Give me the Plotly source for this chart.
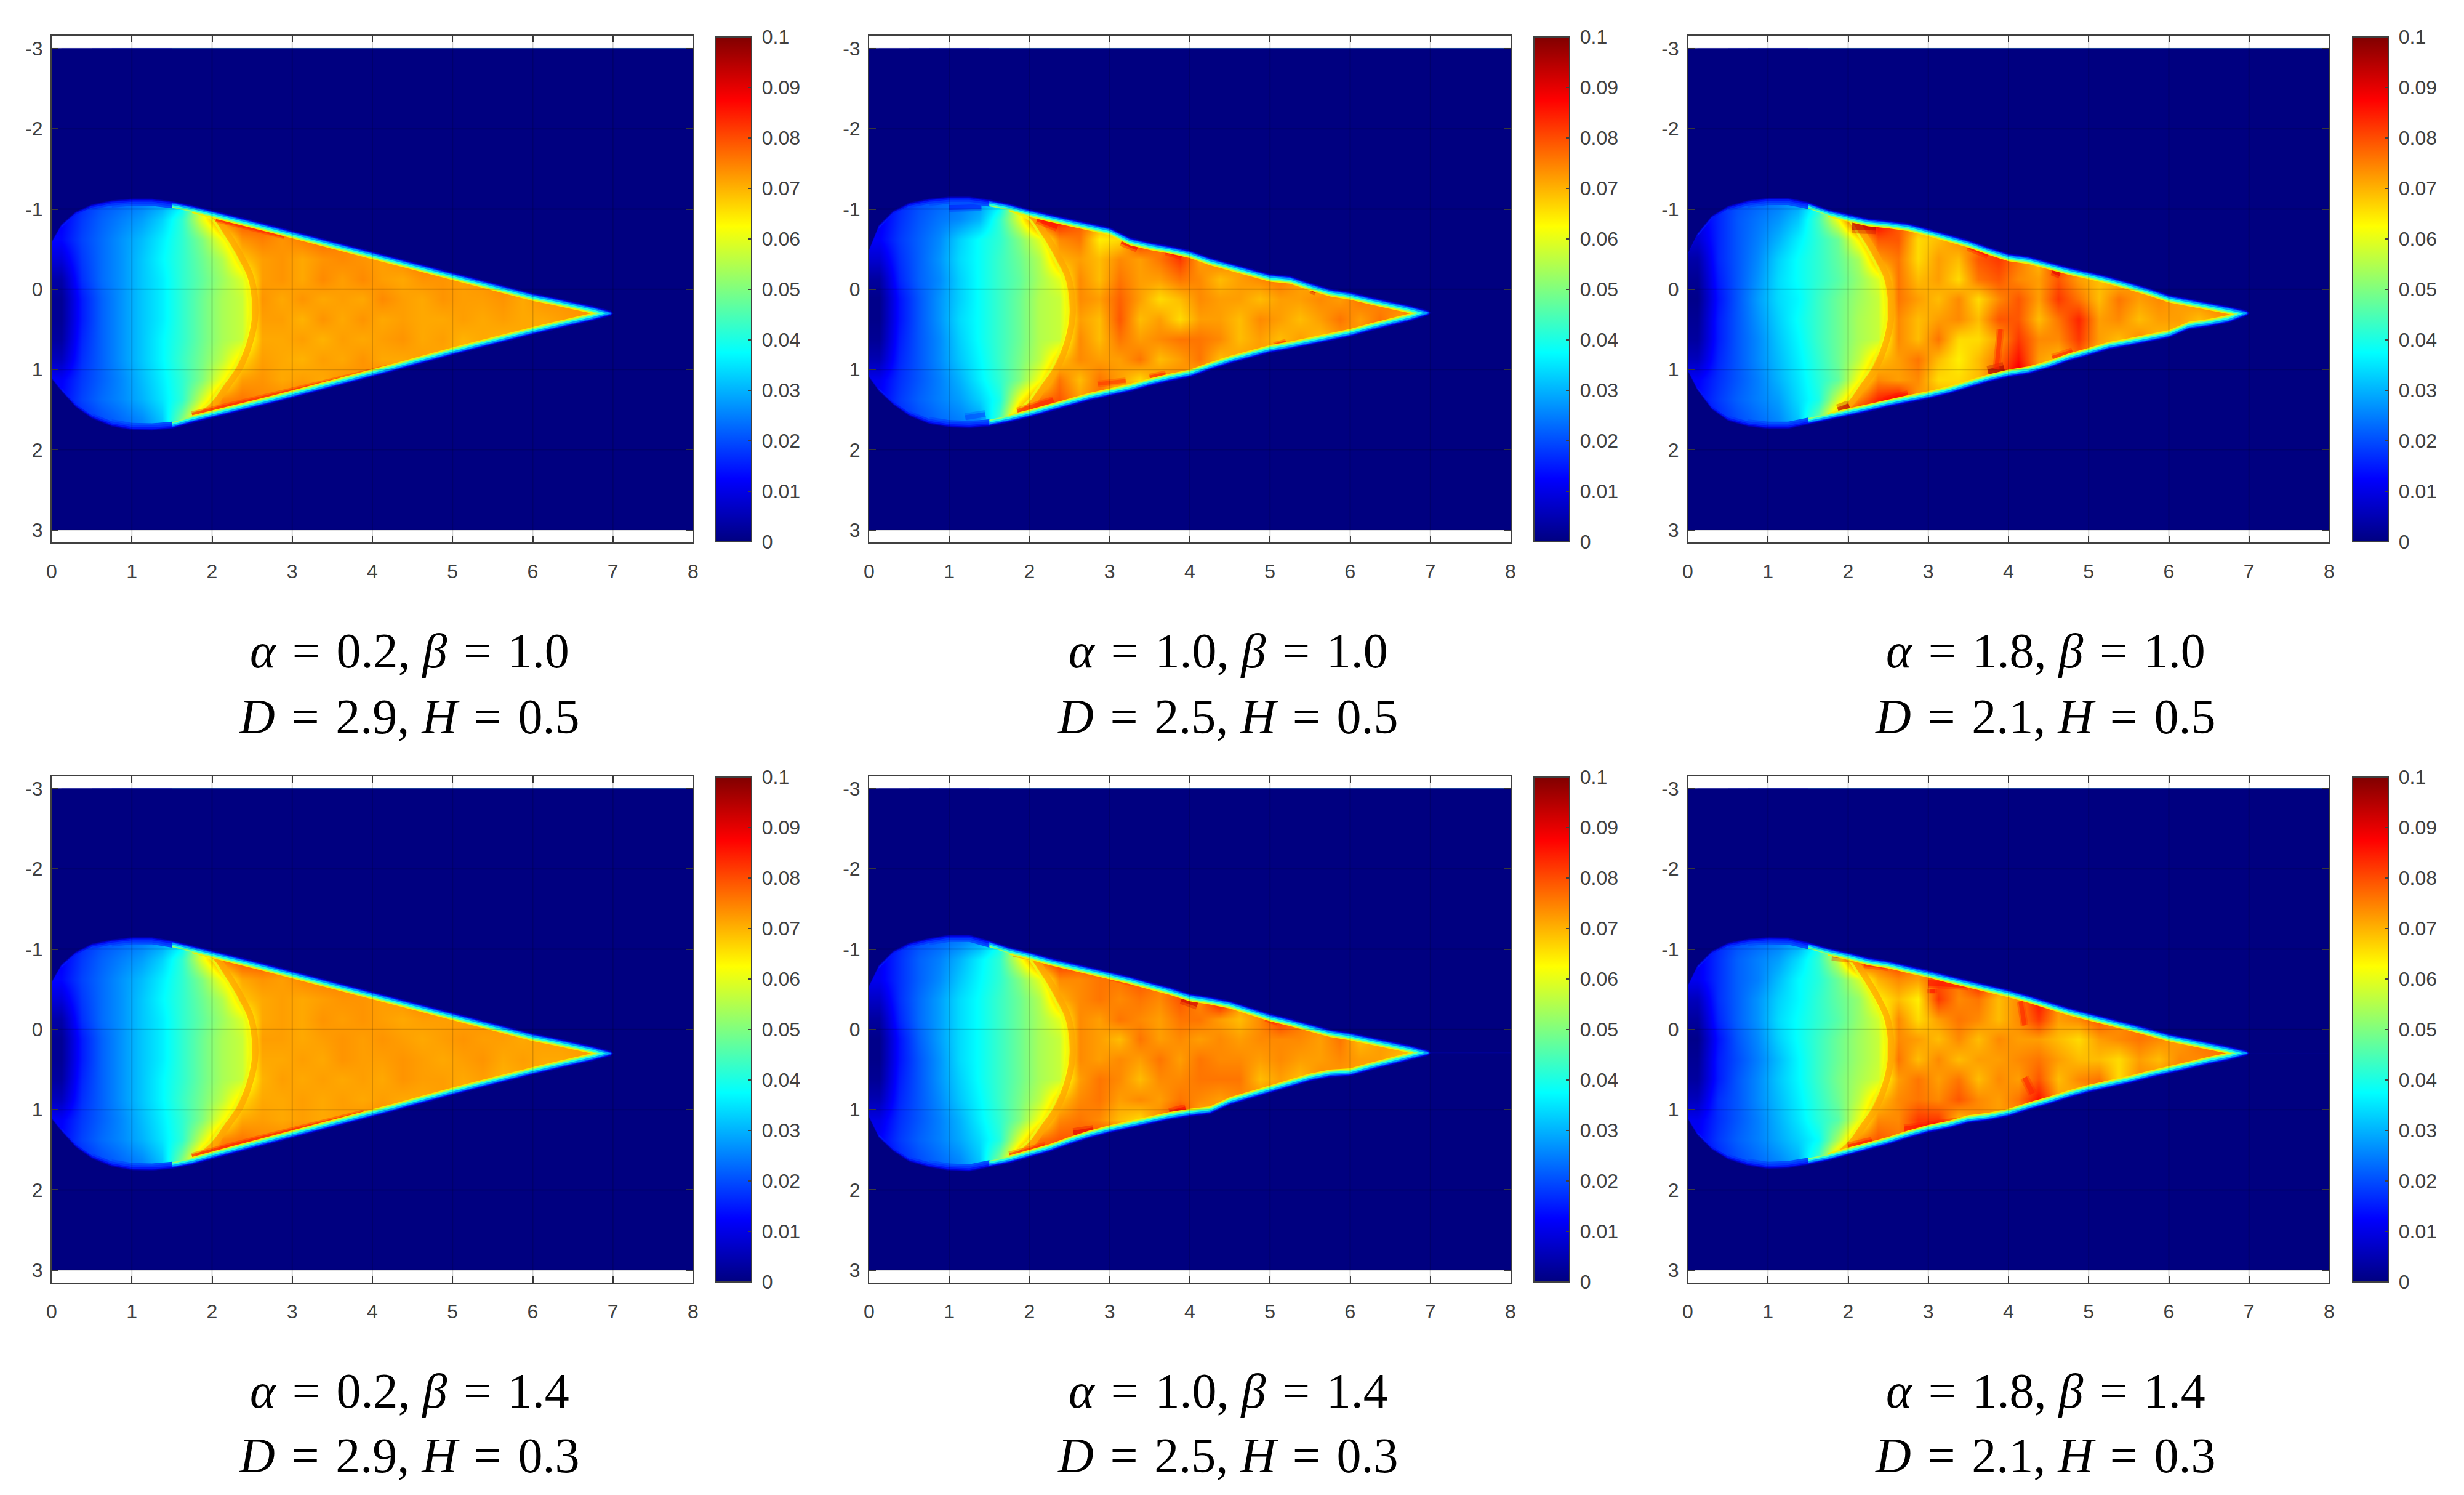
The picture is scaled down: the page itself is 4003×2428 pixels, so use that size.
import plotly.graph_objects as go

W, H = 4003, 2428
CAT_X = [0.125 + 0.25 * i for i in range(32)]
CAT_Y = [-2.875 + 0.25 * j for j in range(24)]
FIRST_ROW = 6          # grid row of y=-1.375, the first typed row
SCALE = 0.001          # typed grid values are in thousandths

TITLES = [("α", "0.2", "β", "1.0", "2.9", "0.5"), ("α", "1.0", "β", "1.0", "2.5", "0.5"), ("α", "1.8", "β", "1.0", "2.1", "0.5"),
          ("α", "0.2", "β", "1.4", "2.9", "0.3"), ("α", "1.0", "β", "1.4", "2.5", "0.3"), ("α", "1.8", "β", "1.4", "2.1", "0.3")]

# rows y=-1.375 ... 1.875 step .25; columns x=.125 ... 7.125 step .25 (thousandths)
GRID_P1 = [
[8,14,18,20,22,24,26,40,70,72,72,72,72,72,72,72,72,72,72,72,72,72,72,72,72,72,72,72,72],
[10,16,20,22,24,27,34,60,72,74,74,74,74,74,74,74,74,74,74,74,74,74,74,74,74,74,74,74,74],
[12,18,22,25,28,33,42,60,76,80,80,78,76,74,74,74,74,74,74,74,74,74,74,74,74,74,74,74,74],
[13,19,23,27,31,36,42,50,62,73,75,73,75,77,75,73,73,73,73,73,73,73,73,73,73,73,73,73,73],
[9,18,23,27,32,37,42,48,55,68,72,73,71,73,74,73,72,74,76,75,73,73,73,73,73,73,73,73,73],
[4,17,23,27,32,36,42,47,53,59,72,73,71,74,72,74,72,71,73,73,72,73,75,75,73,73,73,73,73],
[2,15,22,27,32,36,42,48,54,57,73,71,73,71,72,71,74,72,71,73,72,72,73,71,73,73,73,73,73],
[2,15,22,27,32,36,42,48,54,57,72,72,70,73,71,73,71,72,71,71,72,71,72,71,71,72,73,73,71],
[3,16,22,27,32,37,42,48,54,57,71,71,72,70,72,71,72,73,71,72,70,71,70,71,71,71,71,71,71],
[6,17,22,27,32,37,43,49,56,66,72,71,70,72,71,73,71,71,72,71,70,71,73,71,71,71,71,71,71],
[12,18,22,26,31,36,42,50,62,72,73,71,72,71,73,73,75,73,73,73,73,73,73,73,73,73,73,73,73],
[13,19,23,26,30,35,42,58,74,76,74,74,76,78,76,76,76,74,74,74,74,74,74,74,74,74,74,74,74],
[10,16,20,23,26,32,50,73,80,80,80,78,76,76,76,76,76,76,76,76,76,76,76,76,76,76,76,76,76],
[8,14,18,20,24,28,40,70,78,78,78,76,76,76,76,76,76,76,76,76,76,76,76,76,76,76,76,76,76]]
GRID_P2 = [
[8,14,18,20,22,24,26,40,72,74,74,74,74,74,74,74,74,74,74,74,74,74,74,74,74,74,74,74,74],
[10,16,20,22,24,26,34,62,79,84,79,76,76,76,76,76,76,76,76,76,76,76,76,76,76,76,76,76,76],
[11,17,21,24,26,30,42,60,82,86,79,74,74,76,79,76,76,76,76,76,76,76,76,76,76,76,76,76,76],
[12,18,22,26,33,38,42,50,60,74,76,64,66,84,76,79,76,76,76,76,76,76,76,76,76,76,76,76,76],
[8,17,22,27,34,38,43,48,55,70,72,69,74,72,76,82,72,76,72,79,76,74,76,76,76,76,76,76,76],
[3,16,22,26,33,38,43,47,54,60,74,69,76,72,72,76,74,69,72,74,76,72,69,88,76,76,76,76,76],
[1,14,21,27,33,38,43,48,55,57,74,72,78,72,66,69,74,72,72,69,72,72,74,72,76,74,76,76,76],
[1,14,21,27,34,38,43,48,55,57,72,69,79,69,72,66,72,72,69,74,72,69,72,76,72,76,72,79,76],
[2,15,21,26,33,38,43,48,55,57,74,69,76,72,74,76,76,74,69,72,69,72,69,72,74,82,76,76,76],
[5,16,21,26,32,37,43,49,56,68,74,72,72,76,69,72,76,69,72,72,74,79,74,74,74,74,74,74,74],
[11,17,21,25,30,36,42,50,62,76,69,76,72,66,74,74,69,74,79,76,76,76,76,76,76,76,76,76,76],
[12,18,22,25,28,33,40,62,76,79,72,76,66,82,84,76,76,76,76,76,76,76,76,76,76,76,76,76,76],
[10,16,20,23,25,28,44,76,84,84,76,76,76,76,76,76,76,76,76,76,76,76,76,76,76,76,76,76,76],
[8,14,18,20,24,28,40,72,79,79,79,76,76,76,76,76,76,76,76,76,76,76,76,76,76,76,76,76,76]]
GRID_P3 = [
[8,14,18,20,22,24,26,46,79,84,79,76,76,76,76,76,76,76,76,76,76,76,76,76,76,76,76,76,76],
[10,16,20,22,24,27,38,66,84,88,82,76,76,76,76,76,76,76,76,76,76,76,76,76,76,76,76,76,76],
[10,16,21,24,27,32,44,62,86,90,79,74,74,74,76,76,76,76,76,76,76,76,76,76,76,76,76,76,76],
[8,16,21,25,30,36,42,48,64,79,79,66,69,74,74,84,76,76,76,76,76,76,76,76,76,76,76,76,76],
[4,16,21,26,33,38,42,47,54,72,76,66,72,69,79,82,76,69,84,74,74,76,76,76,76,76,76,76,76],
[2,15,21,27,34,38,42,46,52,59,76,69,72,66,76,79,74,72,79,72,69,69,74,72,74,76,76,76,76],
[1,14,21,28,34,37,43,48,53,57,76,72,69,74,66,74,79,72,82,76,69,76,72,74,72,74,76,74,74],
[2,15,21,27,33,38,43,48,54,57,74,69,72,74,69,79,79,69,76,84,72,74,69,72,72,69,72,72,74],
[3,15,21,26,32,37,43,48,54,57,74,69,76,66,66,72,82,74,74,82,72,69,74,69,69,69,72,72,74],
[6,16,21,26,31,36,42,48,56,68,72,76,69,64,69,76,86,72,69,76,69,74,74,74,74,74,74,74,74],
[12,17,21,25,30,35,41,47,62,74,72,74,66,66,69,79,92,74,72,74,74,74,74,74,74,74,74,74,74],
[13,18,22,25,28,34,40,58,74,84,88,72,72,69,76,76,76,76,76,76,76,76,76,76,76,76,76,76,76],
[10,16,20,23,26,32,48,76,90,86,84,76,76,76,76,76,76,76,76,76,76,76,76,76,76,76,76,76,76],
[8,14,18,20,24,28,40,72,84,82,79,76,76,76,76,76,76,76,76,76,76,76,76,76,76,76,76,76,76]]
GRID_P4 = [
[8,14,18,20,22,24,26,40,70,72,72,72,72,72,72,72,72,72,72,72,72,72,72,72,72,72,72,72,72],
[10,16,20,22,24,27,34,60,72,74,74,74,74,74,74,74,74,74,74,74,74,74,74,74,74,74,74,74,74],
[12,18,22,25,28,33,42,60,76,80,80,78,76,74,74,74,74,74,74,74,74,74,74,74,74,74,74,74,74],
[13,19,23,27,31,36,42,50,62,71,73,72,74,75,75,73,73,73,73,73,73,73,73,73,73,73,73,73,73],
[9,18,23,27,32,37,42,48,55,68,71,72,71,72,73,73,72,73,75,75,73,73,73,73,73,73,73,73,73],
[4,17,23,27,32,36,42,47,53,59,71,72,71,73,72,73,72,71,72,72,72,73,73,73,73,73,73,73,73],
[2,15,22,27,32,36,42,48,54,57,72,72,71,72,73,72,73,72,71,72,73,72,72,71,72,72,72,72,72],
[2,15,22,27,32,36,42,48,54,57,71,71,72,71,73,72,72,73,72,71,72,73,71,72,71,71,72,72,71],
[3,16,22,27,32,37,42,48,54,57,70,72,71,72,71,72,71,73,72,72,71,72,70,71,71,71,71,71,71],
[6,17,22,27,32,37,43,49,56,66,71,71,72,71,72,71,72,71,71,72,71,71,72,71,71,71,71,71,71],
[12,18,22,26,31,36,42,50,62,71,72,71,72,71,72,73,74,72,73,73,73,73,73,73,73,73,73,73,73],
[13,19,23,26,30,35,42,58,74,76,74,74,76,76,76,76,76,74,74,74,74,74,74,74,74,74,74,74,74],
[10,16,20,23,26,32,50,73,80,80,80,78,76,76,76,76,76,76,76,76,76,76,76,76,76,76,76,76,76],
[8,14,18,20,24,28,40,70,78,78,78,76,76,76,76,76,76,76,76,76,76,76,76,76,76,76,76,76,76]]
GRID_P5 = [
[8,14,18,20,22,24,26,42,72,74,74,74,74,74,74,74,74,74,74,74,74,74,74,74,74,74,74,74,74],
[10,16,20,22,24,27,38,62,76,79,79,76,76,76,76,76,76,76,76,76,76,76,76,76,76,76,76,76,76],
[11,17,22,25,30,36,42,60,79,84,82,82,76,74,76,76,76,76,76,76,76,76,76,76,76,76,76,76,76],
[11,17,22,26,32,37,42,50,60,74,74,76,76,79,76,79,76,76,76,76,76,76,76,76,76,76,76,76,76],
[7,17,23,28,34,38,43,48,55,70,74,76,74,76,74,79,74,88,74,76,76,76,76,76,76,76,76,76,76],
[3,16,23,28,34,38,43,48,54,60,74,72,76,74,72,76,76,72,69,74,82,76,74,76,76,76,76,76,76],
[1,14,22,28,34,38,43,48,54,57,74,72,69,76,72,74,72,74,72,74,74,74,72,76,69,72,72,72,72],
[1,14,21,27,34,38,43,48,54,57,74,72,74,72,76,72,76,74,74,72,74,72,72,74,72,72,69,66,69],
[2,15,21,27,33,38,43,48,54,57,72,76,74,69,74,74,76,76,76,69,72,69,74,72,72,72,69,69,69],
[5,16,21,26,32,37,43,49,56,68,74,76,72,74,72,76,74,72,74,74,76,72,72,74,74,74,74,74,74],
[10,17,21,25,30,36,42,50,62,74,76,74,69,66,74,84,69,74,72,76,76,76,76,76,76,76,76,76,76],
[12,18,22,25,29,34,41,60,76,79,79,82,84,76,76,76,76,76,76,76,76,76,76,76,76,76,76,76,76],
[10,16,20,23,26,32,50,76,84,82,79,76,76,76,76,76,76,76,76,76,76,76,76,76,76,76,76,76,76],
[8,14,18,20,24,28,40,72,79,79,79,76,76,76,76,76,76,76,76,76,76,76,76,76,76,76,76,76,76]]
GRID_P6 = [
[8,14,18,20,22,24,26,42,76,79,76,76,76,76,76,76,76,76,76,76,76,76,76,76,76,76,76,76,76],
[10,16,20,22,24,27,38,62,82,82,79,76,76,76,76,76,76,76,76,76,76,76,76,76,76,76,76,76,76],
[11,17,22,25,28,34,42,58,86,79,84,76,74,76,76,76,76,76,76,76,76,76,76,76,76,76,76,76,76],
[11,17,22,25,31,37,41,48,58,70,74,72,79,76,86,76,76,76,76,76,76,76,76,76,76,76,76,76,76],
[6,17,22,27,33,37,42,47,52,64,69,64,82,74,76,69,74,86,74,76,76,76,76,76,76,76,76,76,76],
[3,16,22,27,34,38,42,46,52,58,74,66,72,76,74,69,74,82,72,74,79,74,76,76,76,76,76,76,76],
[1,14,21,26,33,38,43,48,53,57,74,72,69,74,69,74,72,72,69,66,72,74,76,74,72,76,76,76,76],
[2,15,20,25,31,37,43,48,53,57,76,69,74,69,72,72,74,76,72,69,69,66,72,69,74,74,76,74,74],
[3,15,21,26,32,37,43,49,54,58,72,76,72,76,69,74,72,79,69,74,76,66,74,74,76,72,74,74,74],
[6,17,21,26,31,36,42,48,56,68,74,76,74,79,74,72,76,86,72,69,79,74,74,74,74,74,74,74,74],
[11,17,21,25,30,35,41,46,60,74,74,82,82,69,74,72,74,74,84,76,76,76,76,76,76,76,76,76,76],
[12,18,22,25,29,33,38,54,74,79,76,79,86,76,76,76,76,76,76,76,76,76,76,76,76,76,76,76,76],
[10,16,20,23,26,30,44,74,84,86,84,82,76,76,76,76,76,76,76,76,76,76,76,76,76,76,76,76,76],
[8,14,18,20,24,28,40,72,79,79,79,76,76,76,76,76,76,76,76,76,76,76,76,76,76,76,76,76,76]]

EDGE_X = [0,.12,.3,.5,.75,1,1.25,1.5,1.75,2,2.25,2.5,2.75,3,3.25,3.5,3.75,4,4.25,4.5,4.75,5,5.25,5.5,5.75,6,6.25,6.5,6.75,6.97,7.01]
UP_P1 = [-.6,-.81,-.97,-1.06,-1.11,-1.13,-1.13,-1.10,-1.05,-.99,-.93,-.865,-.80,-.735,-.67,-.605,-.54,-.475,-.405,-.34,-.275,-.21,-.145,-.085,-.02,.045,.095,.15,.205,.265,.3]
LO_P1 = [1.12,1.27,1.47,1.61,1.71,1.755,1.76,1.74,1.67,1.61,1.55,1.49,1.425,1.36,1.295,1.23,1.165,1.10,1.03,.96,.89,.825,.76,.695,.63,.57,.51,.45,.395,.335,.3]
UP_P2 = [-.5,-.8,-.98,-1.08,-1.13,-1.155,-1.155,-1.12,-1.07,-1.0,-.94,-.885,-.83,-.775,-.65,-.59,-.545,-.49,-.40,-.33,-.26,-.195,-.17,-.085,-.01,.03,.09,.145,.20,.26,.295]
LO_P2 = [1.1,1.27,1.44,1.58,1.68,1.72,1.73,1.71,1.66,1.60,1.53,1.46,1.39,1.335,1.28,1.21,1.15,1.10,1.01,.93,.86,.795,.75,.70,.645,.595,.525,.46,.40,.33,.295]
UP_P3 = [-.45,-.70,-.92,-1.04,-1.11,-1.14,-1.14,-1.09,-1.0,-.94,-.885,-.86,-.825,-.76,-.69,-.62,-.53,-.45,-.415,-.345,-.28,-.225,-.165,-.095,-.02,.065,.115,.16,.21,.26,.295]
LO_P3 = [1.02,1.26,1.5,1.64,1.71,1.74,1.74,1.69,1.64,1.585,1.53,1.47,1.42,1.37,1.31,1.235,1.16,1.10,1.06,.99,.90,.83,.755,.71,.66,.61,.505,.47,.42,.335,.30]
UP_P4 = [-.6,-.81,-.97,-1.07,-1.12,-1.15,-1.15,-1.11,-1.05,-.99,-.93,-.865,-.80,-.735,-.67,-.605,-.54,-.475,-.405,-.34,-.275,-.21,-.145,-.085,-.02,.045,.095,.15,.205,.265,.3]
LO_P4 = [1.12,1.27,1.47,1.61,1.71,1.755,1.76,1.74,1.69,1.62,1.555,1.49,1.425,1.36,1.295,1.23,1.165,1.10,1.03,.96,.89,.825,.76,.695,.63,.57,.51,.45,.395,.335,.3]
UP_P5 = [-.55,-.80,-.98,-1.08,-1.14,-1.18,-1.18,-1.11,-1.03,-.97,-.90,-.84,-.785,-.725,-.665,-.595,-.53,-.45,-.41,-.36,-.28,-.20,-.14,-.07,-.005,.035,.09,.145,.195,.255,.29]
LO_P5 = [1.1,1.35,1.52,1.65,1.72,1.76,1.77,1.72,1.67,1.60,1.53,1.44,1.36,1.295,1.24,1.18,1.13,1.09,1.06,.945,.87,.80,.72,.65,.60,.585,.515,.45,.39,.33,.295]
UP_P6 = [-.55,-.8,-.98,-1.08,-1.13,-1.15,-1.145,-1.09,-1.02,-.965,-.90,-.86,-.80,-.745,-.68,-.62,-.56,-.50,-.43,-.355,-.275,-.21,-.15,-.085,-.02,.05,.10,.15,.205,.26,.295]
LO_P6 = [1.12,1.32,1.5,1.62,1.70,1.74,1.73,1.69,1.64,1.575,1.51,1.44,1.36,1.29,1.24,1.17,1.14,1.09,1.01,.94,.86,.79,.735,.68,.615,.56,.50,.44,.39,.33,.295]

ARC_X = [1.78,2.0,2.13,2.27,2.4,2.45,2.47,2.45,2.37,2.27,2.13,1.98,1.74]
ARC_Y = [-.975,-.87,-.68,-.45,-.19,0,.295,.47,.76,.99,1.19,1.4,1.59]
ARC_R_X = [1.85,2.07,2.2,2.34,2.47,2.52,2.54,2.52,2.44,2.34,2.2,2.05,1.81]   # orange side just right of the front

# hot streaks: (x list, y list, value in thousandths, width in px)
HOT_P1 = [([2.05,2.9],[-.87,-.66],84,5),([1.75,2.6,4.2],[1.56,1.36,.98],84,6)]
HOT_P2 = [([1.0,1.4],[-1.02,-1.03],15,8),([1.2,1.45],[1.6,1.56],20,8),([2.1,2.35],[-.88,-.78],86,9),([3.15,3.35],[-.6,-.52],88,9),([3.7,3.9],[-.48,-.42],86,8),([4.8,5.0],[-.22,-.16],84,7),([5.52,5.58],[-.01,.02],92,9),([3.5,3.7],[1.1,1.06],84,7),([2.85,3.2],[1.18,1.14],82,6),([1.85,2.3],[1.52,1.38],84,7),([5.05,5.2],[.7,.66],84,6)]
HOT_P3 = [([2.05,2.35],[-.8,-.79],94,15),([3.5,3.75],[-.54,-.44],86,9),([4.55,4.65],[-.24,-.2],90,10),([3.75,3.95],[1.05,1.0],96,14),([3.9,3.85],[.5,1.0],84,7),([2.45,2.75],[1.4,1.32],86,9),([1.88,2.02],[1.52,1.47],94,13),([4.55,4.8],[.86,.78],84,8)]
HOT_P4 = [([1.85,2.5,3.4,4.9],[-.96,-.8,-.58,-.24],82,5),([1.75,2.55,3.9],[1.58,1.37,1.04],85,6)]
HOT_P5 = [([1.8,2.0],[-.96,-.92],84,8),([2.2,2.7],[-.87,-.76],83,6),([3.0,3.3],[-.66,-.58],84,7),([3.9,4.1],[-.39,-.32],92,11),([4.95,5.1],[-.15,-.1],86,8),([3.75,3.95],[1.05,1.0],88,10),([2.55,2.8],[1.3,1.26],90,10),([1.75,2.2],[1.57,1.45],84,7)]
HOT_P6 = [([1.8,2.05],[-.95,-.93],90,14),([2.2,2.5],[-.82,-.78],84,8),([3.0,3.5],[-.58,-.55],86,9),([3.05,3.05],[-.45,-.5],86,9),([4.15,4.2],[-.35,-.05],84,7),([4.2,4.3],[.6,.8],84,8),([2.0,2.3],[1.47,1.4],86,9),([2.7,3.4],[1.24,1.15],86,8),([5.05,5.2],[.72,.68],84,6)]

GRIDS = [GRID_P1, GRID_P2, GRID_P3, GRID_P4, GRID_P5, GRID_P6]
UPS = [UP_P1, UP_P2, UP_P3, UP_P4, UP_P5, UP_P6]
LOS = [LO_P1, LO_P2, LO_P3, LO_P4, LO_P5, LO_P6]
HOTS = [HOT_P1, HOT_P2, HOT_P3, HOT_P4, HOT_P5, HOT_P6]
CB_TICKS = [0, .01, .02, .03, .04, .05, .06, .07, .08, .09, .1]
CB_LABELS = ["0", "0.01", "0.02", "0.03", "0.04", "0.05", "0.06", "0.07", "0.08", "0.09", "0.1"]
XT = [0, 1, 2, 3, 4, 5, 6, 7, 8]
YT = [-3, -2, -1, 0, 1, 2, 3]
YT_LABELS = ["-3", "-2", "-1", "0", "1", "2", "3"]

# presentation
JET = [[0, '#000080'], [.125, '#0000ff'], [.375, '#00ffff'], [.625, '#ffff00'], [.875, '#ff0000'], [1, '#800000']]
NAVY = '#000080'
INK = '#404040'
AX_L = [84, 1412, 2742]
AX_R = [1126, 2454, 3784]
AX_T = [58, 1260]
AX_B = [881, 2083]
CB_L = [1163, 2492, 3822]
CB_T = [60, 1262]
CAP_X = [665, 1995, 3323]
CAP_Y = [(1057, 1164), (2259, 2364)]
# nested edge fringes, innermost first: inset, colour, xmin, xmax
FRINGES = [(.10, '#f0f000', 1.75, 8), (.09, '#0050ff', .75, 1.5), (.085, '#90ff70', 1.5, 8), (.07, '#20ffe0', 1.5, 8), (.065, '#0038ff', .5, 1.5),
           (.05, '#00a0ff', 1.5, 8), (.04, '#0018f8', .12, 1.5), (.03, '#0040ff', 1.5, 8), (.02, '#0000d8', 0, 8), (.01, '#0000a8', 0, 8), (0, NAVY, 0, 8)]


def lerp_color(v):
    t = v * SCALE / .1
    stops = [(0, (0, 0, 128)), (.125, (0, 0, 255)), (.375, (0, 255, 255)), (.625, (255, 255, 0)), (.875, (255, 0, 0)), (1, (128, 0, 0))]
    for (a, ca), (b, cb) in zip(stops, stops[1:]):
        if t <= b:
            f = (t - a) / (b - a)
            return 'rgb(%d,%d,%d)' % tuple(ca[i] + f * (cb[i] - ca[i]) for i in range(3))
    return '#800000'


fig = go.Figure()
layout = dict(width=W, height=H, autosize=False, margin=dict(l=0, r=0, t=0, b=0, autoexpand=False), paper_bgcolor='white', plot_bgcolor='white',
              showlegend=False, shapes=[], annotations=[], font=dict(family='Liberation Sans', size=32, color=INK))

for p in range(6):
    col, row = p % 3, p // 3
    sfx = '' if p == 0 else str(p + 1)
    xa, ya = 'x' + sfx, 'y' + sfx
    axis = dict(showgrid=False, zeroline=False, showline=True, linecolor=INK, linewidth=2, mirror='ticks', ticks='inside',
                ticklen=11, tickwidth=2, tickcolor=INK, tickfont=dict(family='Liberation Sans', size=32, color=INK))
    layout['xaxis' + sfx] = dict(axis, domain=[AX_L[col] / W, AX_R[col] / W], range=[0, 8], tickvals=XT, anchor=ya, ticklabelstandoff=18)
    layout['yaxis' + sfx] = dict(axis, domain=[1 - AX_B[row] / H, 1 - AX_T[row] / H], range=[3.155, -3.16], tickvals=YT, ticktext=YT_LABELS, anchor=xa, ticklabelstandoff=6)

    z = [[0] * 32 for _ in CAT_Y]
    for j, r in enumerate(GRIDS[p]):
        for i, v in enumerate(r):
            z[FIRST_ROW + j][i] = v * SCALE
    fig.add_trace(go.Heatmap(x=CAT_X, y=CAT_Y, z=z, zmin=0, zmax=.1, zsmooth='best', colorscale=JET, xaxis=xa, yaxis=ya, hoverinfo='skip',
                             colorbar=dict(x=CB_L[col] / W, xanchor='left', xpad=0, ypad=0, y=1 - CB_T[row] / H, yanchor='top',
                                           len=820, lenmode='pixels', thickness=58, thicknessmode='pixels', outlinecolor=INK, outlinewidth=2,
                                           ticks='inside', ticklen=7, tickwidth=2, tickcolor=INK, tickvals=CB_TICKS,
                                           ticktext=['\u00a0' + s for s in CB_LABELS],
                                           tickfont=dict(family='Liberation Sans', size=32, color=INK))))
    fig.add_trace(go.Scatter(x=ARC_R_X, y=ARC_Y, mode='lines', line=dict(color='#ffa400', width=10, shape='spline'), opacity=.75, xaxis=xa, yaxis=ya, hoverinfo='skip'))
    fig.add_trace(go.Scatter(x=ARC_X, y=ARC_Y, mode='lines', line=dict(color='#eefa10', width=4, shape='spline'), opacity=.85, xaxis=xa, yaxis=ya, hoverinfo='skip'))
    for hx, hy, hv, hw in HOTS[p]:
        fig.add_trace(go.Scatter(x=hx, y=hy, mode='lines', line=dict(color=lerp_color(hv), width=hw * 1.8), opacity=.3, xaxis=xa, yaxis=ya, hoverinfo='skip'))
        fig.add_trace(go.Scatter(x=hx, y=hy, mode='lines', line=dict(color=lerp_color(hv), width=hw), opacity=.55, xaxis=xa, yaxis=ya, hoverinfo='skip'))
    for inset, colr, x0, x1 in FRINGES:
        keep = [i for i, x in enumerate(EDGE_X) if x0 <= x <= x1]
        ex = [EDGE_X[i] for i in keep]
        uy = [UPS[p][i] + inset for i in keep]
        ly = [LOS[p][i] - inset for i in keep]
        endx = max(ex) if x1 < 8 else 8
        fig.add_trace(go.Scatter(x=ex + [endx, endx, ex[0], ex[0]], y=uy + [uy[-1], -3, -3, uy[0]], mode='lines', fill='toself', fillcolor=colr,
                                 line=dict(width=0), xaxis=xa, yaxis=ya, hoverinfo='skip'))
        fig.add_trace(go.Scatter(x=ex + [endx, endx, ex[0], ex[0]], y=ly + [ly[-1], 3, 3, ly[0]], mode='lines', fill='toself', fillcolor=colr,
                                 line=dict(width=0), xaxis=xa, yaxis=ya, hoverinfo='skip'))
    for t in XT[1:-1]:
        layout['shapes'].append(dict(type='line', xref=xa, yref=ya, x0=t, x1=t, y0=-3.16, y1=3.155, line=dict(color='rgba(0,0,0,0.16)', width=2), layer='above'))
    for t in YT:
        layout['shapes'].append(dict(type='line', xref=xa, yref=ya, x0=0, x1=8, y0=t, y1=t, line=dict(color='rgba(0,0,0,0.16)', width=2), layer='above'))
    a, av, b, bv, dv, hv = TITLES[p]
    gap = '\u200a'
    lines = [f"<i>{a}</i>{gap} = {gap}{av}, <i>{b}</i>{gap} = {gap}{bv}", f"<i>D</i>{gap} = {gap}{dv}, <i>H</i>{gap} = {gap}{hv}"]
    for text, yp in zip(lines, CAP_Y[row]):
        layout['annotations'].append(dict(text=text, xref='paper', yref='paper', x=CAP_X[col] / W, y=1 - yp / H, xanchor='center', yanchor='middle',
                                          showarrow=False, font=dict(family='Liberation Serif', size=80, color='black')))

fig.update_layout(**layout)
fig.write_html("out.html", post_script="document.body.style.margin='0';", config={'displayModeBar': False})
